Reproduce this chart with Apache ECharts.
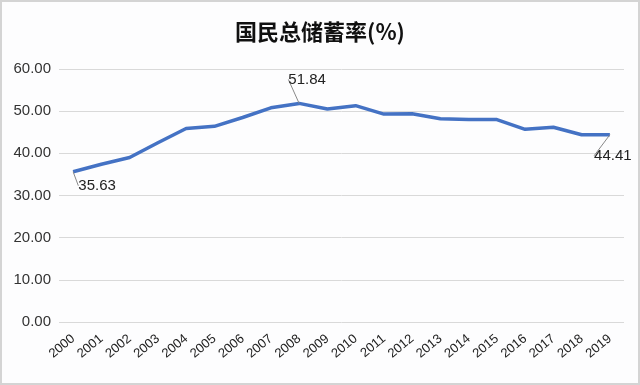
<!DOCTYPE html>
<html><head><meta charset="utf-8">
<script src="https://cdn.jsdelivr.net/npm/echarts@6/dist/echarts.min.js"></script>
<style>html,body{margin:0;padding:0;background:#fff}#c{width:636px;height:381px;border:2px solid #d4d4d4;background:#fdfdfe}</style>
</head><body><div id="c"></div>
<script>
const years = ['2000','2001','2002','2003','2004','2005','2006','2007','2008','2009','2010','2011','2012','2013','2014','2015','2016','2017','2018','2019'];
const savingRate = [35.63,37.4,39.0,42.5,45.9,46.4,48.5,50.8,51.84,50.5,51.3,49.3,49.4,48.2,48.0,48.0,45.7,46.2,44.4,44.41];
const labelled = {0:[24,14], 8:[8,-24], 19:[3,21]};
const chart = echarts.init(document.getElementById('c'));
chart.setOption({
  title:{text:'国民总储蓄率(%)',left:'center',top:14,textStyle:{fontFamily:'Noto Sans CJK SC',fontSize:22,fontWeight:'bold',color:'#111'}},
  grid:{left:57,right:14,top:67,bottom:61},
  xAxis:{type:'category',data:years,boundaryGap:true,axisLine:{show:false},axisTick:{show:false},
    axisLabel:{rotate:40,fontSize:13,color:'#222',fontFamily:'Liberation Sans',margin:15,interval:0}},
  yAxis:{type:'value',min:0,max:60,interval:10,axisLabel:{fontSize:15,color:'#333',fontFamily:'Liberation Sans',margin:8,formatter:v=>v.toFixed(2)},
    splitLine:{lineStyle:{color:'#d9d9d9'}}},
  series:[{type:'line',data:savingRate.map((v,i)=>labelled[i]?{value:v,label:{show:true}}:v),
    symbol:'circle',symbolSize:0,showSymbol:true,lineStyle:{color:'#4472C4',width:3.5},itemStyle:{color:'#4472C4'},
    label:{show:false,position:'inside',fontSize:15,color:'#222',fontFamily:'Liberation Sans',formatter:p=>p.value.toFixed(2)},
    labelLine:{show:true,lineStyle:{color:'#888',width:1}},
    labelLayout:function(p){const o=labelled[p.dataIndex];if(!o)return{};return{dx:o[0],dy:o[1]};}
  }]
});
</script></body></html>
